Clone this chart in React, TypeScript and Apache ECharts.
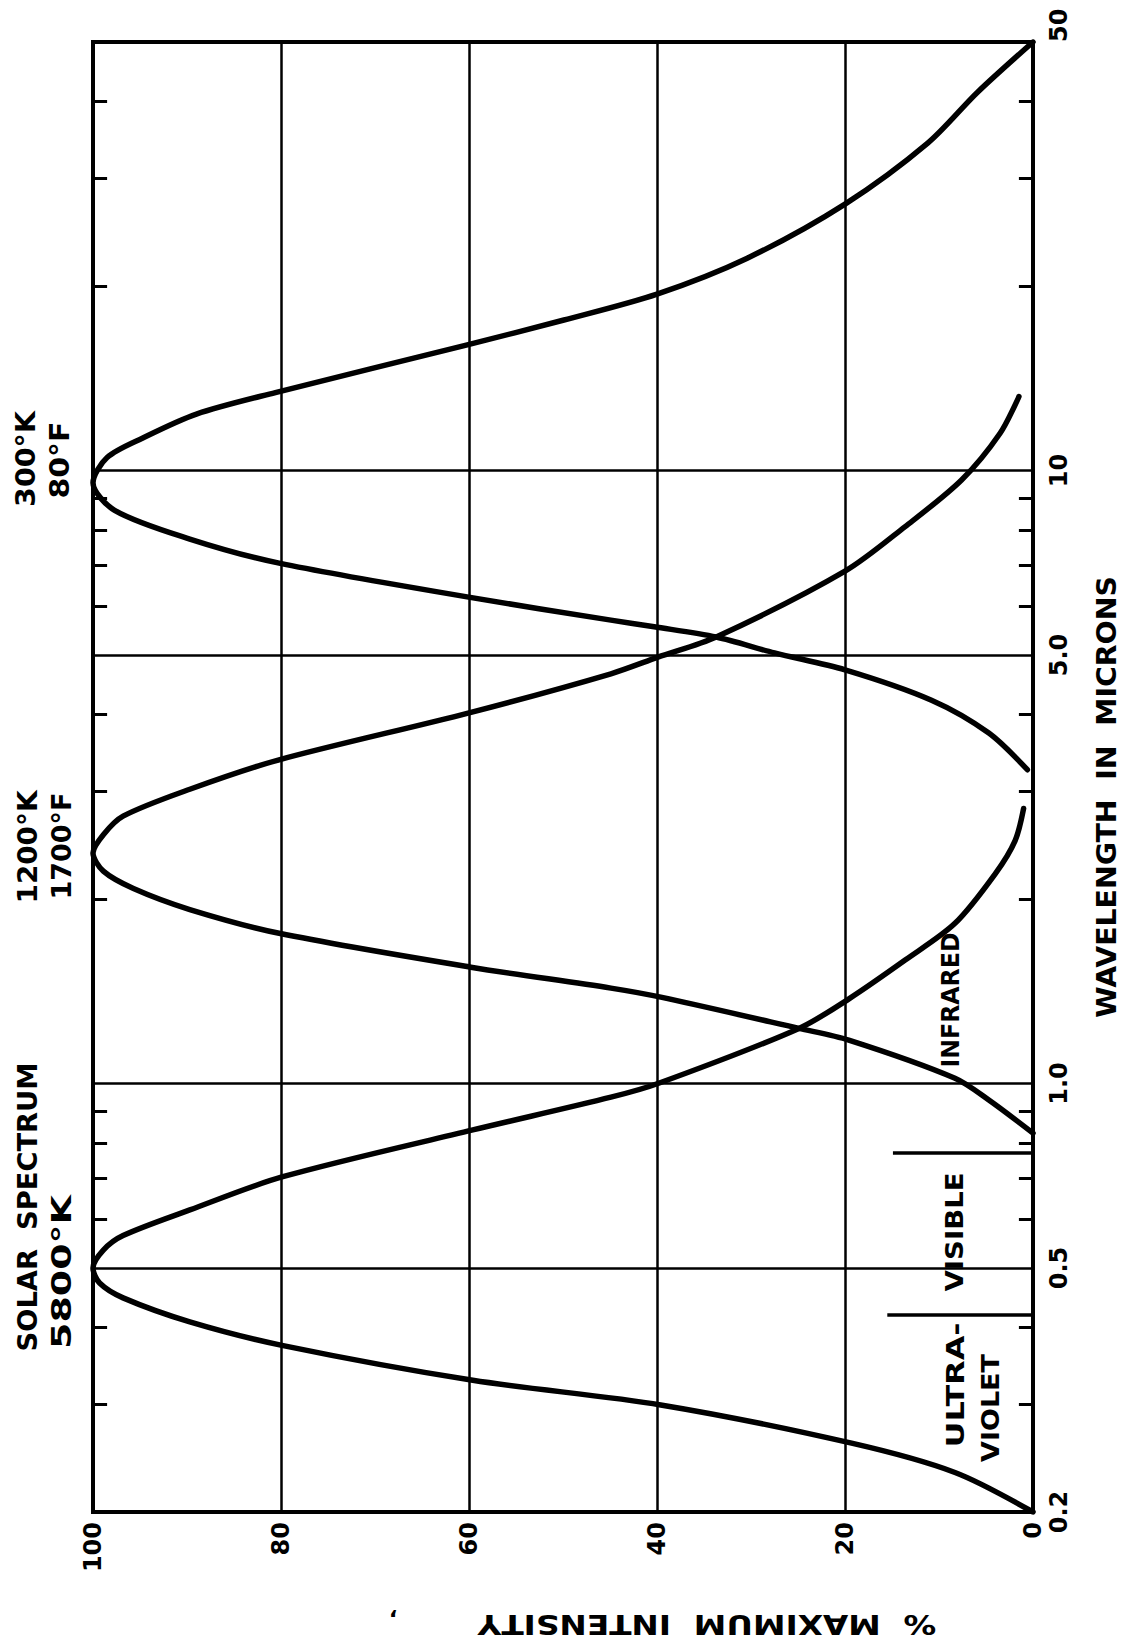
import React, { useEffect, useRef } from "react";
import * as echarts from "echarts";

// ---- Axis definitions ----
const intensityMin = 0;
const intensityMax = 100;
const intensityStep = 20;

const wavelengthMin = 0.2;
const wavelengthMax = 50;
const wavelengthLabelValues = [0.2, 0.5, 1.0, 5.0, 10, 50];
const wavelengthLabelTexts = ["0.2", "0.5", "1.0", "5.0", "10", "50"];
const wavelengthGridValues = [0.5, 1.0, 5.0, 10];
const wavelengthMinorTicks = [0.3, 0.4, 0.6, 0.7, 0.8, 0.9, 2, 3, 4, 6, 7, 8, 9, 20, 30, 40];

// ---- Curves: wavelength (microns) and % maximum intensity ----
const solarWavelength = [0.2, 0.232, 0.259, 0.299, 0.328, 0.374, 0.4085, 0.447, 0.4726, 0.5, 0.535, 0.565, 0.622, 0.704, 0.84, 0.95, 1.0, 1.23, 1.377, 1.59, 1.825, 2.2, 2.49, 2.81];
const solarIntensity = [0, 8.3, 19.3, 39.6, 59.6, 79.9, 89.7, 96.8, 99.3, 100, 98.9, 96.8, 89.7, 79.9, 59.6, 44.9, 39.9, 24.9, 19.5, 13.6, 8.3, 4.0, 1.9, 1.0];

const k1200Wavelength = [0.83, 0.94, 1.02, 1.177, 1.23, 1.383, 1.431, 1.548, 1.758, 1.922, 2.08, 2.22, 2.376, 2.546, 2.73, 3.02, 3.37, 4.02, 4.66, 4.96, 5.35, 6.85, 8.1, 9.65, 11.5, 13.2];
const k1200Intensity = [0, 4.7, 8.3, 19.6, 24.9, 39.6, 44.9, 59.8, 80.2, 89.7, 95.7, 98.9, 100, 98.9, 96.8, 89.7, 80.3, 60.1, 44.9, 39.9, 33.7, 20.0, 13.6, 7.6, 3.5, 1.5];

const k300Wavelength = [3.25, 3.73, 4.22, 4.73, 5.04, 5.35, 5.56, 5.7, 6.22, 7.06, 7.73, 8.61, 9.55, 10.5, 11.3, 12.36, 13.4, 16.0, 17.6, 19.4, 22.2, 27.2, 34.2, 41.4, 50];
const k300Intensity = [0.6, 4.7, 10.8, 20.0, 27.5, 33.7, 40.3, 44.9, 60.2, 80.2, 89.7, 97.7, 100, 98.5, 94.7, 89.0, 80.6, 60.4, 49.9, 40.0, 30.4, 20.0, 11.2, 5.9, 0];

// Band boundaries (ultraviolet / visible / infrared)
const bandBoundaryWavelength = [0.42, 0.77];
const bandBoundaryIntensity = [15.5, 14.9];

// ---- Annotation layout (pixels) ----
type Note = { text: string; x: number; y: number; len: number; size: number; rot: number };
const notes: Note[] = [
  { text: "SOLAR  SPECTRUM", x: 28, y: 1207, len: 289, size: 26, rot: 90 },
  { text: "5800°K", x: 62, y: 1272, len: 154, size: 26, rot: 90 },
  { text: "1200°K", x: 28, y: 847, len: 113, size: 26, rot: 90 },
  { text: "1700°F", x: 62, y: 846, len: 107, size: 26, rot: 90 },
  { text: "300°K", x: 26, y: 459, len: 96, size: 26, rot: 90 },
  { text: "80°F", x: 60, y: 460, len: 77, size: 26, rot: 90 },
  { text: "INFRARED", x: 951, y: 1000, len: 135, size: 24, rot: 90 },
  { text: "VISIBLE", x: 955, y: 1232, len: 119, size: 24, rot: 90 },
  { text: "ULTRA-", x: 956, y: 1385, len: 125, size: 24, rot: 90 },
  { text: "VIOLET", x: 991, y: 1408, len: 108, size: 24, rot: 90 },
  { text: "WAVELENGTH  IN  MICRONS", x: 1107, y: 797, len: 442, size: 26, rot: 90 },
  { text: "%  MAXIMUM  INTENSITY", x: 707, y: 1624, len: 459, size: 26, rot: 180 },
];

const FONT = '"DejaVu Sans", Verdana, sans-serif';

function measure(text: string, size: number): number {
  const ctx = document.createElement("canvas").getContext("2d");
  if (!ctx) return text.length * size * 0.7;
  ctx.font = `bold ${size}px ${FONT}`;
  return ctx.measureText(text).width;
}

const pairs = (wl: number[], inten: number[]) => wl.map((w, i) => [inten[i], w]);

export default function App() {
  const ref = useRef<HTMLDivElement>(null);

  useEffect(() => {
    if (!ref.current) return;
    const chart = echarts.init(ref.current, null, { renderer: "svg" });

    const curveStyle = { color: "#000", width: 5.5, cap: "round" as const, join: "round" as const };

    const markData: any[] = [
      ...wavelengthGridValues.map((v) => ({ yAxis: v })),
      ...wavelengthMinorTicks.map((v) => [
        { coord: [intensityMax, v], lineStyle: { width: 3 } },
        { coord: [intensityMax - 1.5, v] },
      ]),
      ...wavelengthMinorTicks.map((v) => [
        { coord: [intensityMin, v], lineStyle: { width: 3 } },
        { coord: [intensityMin + 1.5, v] },
      ]),
      ...bandBoundaryWavelength.map((v, i) => [
        { coord: [bandBoundaryIntensity[i], v], lineStyle: { width: 3.5 } },
        { coord: [intensityMin, v] },
      ]),
    ];

    const graphics: any[] = notes.map((n) => ({
      type: "text",
      x: n.x,
      y: n.y,
      rotation: (n.rot * Math.PI) / 180,
      scaleX: n.len / measure(n.text, n.size),
      silent: true,
      z: 10,
      style: {
        text: n.text,
        fontSize: n.size,
        fontFamily: FONT,
        fontWeight: "bold",
        fill: "#000",
        align: "center",
        verticalAlign: "middle",
        textAlign: "center",
        textVerticalAlign: "middle",
      },
    }));
    graphics.push({
      type: "text",
      x: 393,
      y: 1620,
      rotation: Math.PI,
      silent: true,
      z: 10,
      style: {
        text: ",",
        fontSize: 22,
        fontFamily: FONT,
        fontWeight: "bold",
        fill: "#000",
        align: "center",
        verticalAlign: "middle",
        textAlign: "center",
        textVerticalAlign: "middle",
      },
    });

    chart.setOption({
      animation: false,
      backgroundColor: "#fff",
      grid: {
        left: 93,
        right: 98,
        top: 42,
        bottom: 130,
        show: true,
        borderColor: "#000",
        borderWidth: 4,
        backgroundColor: "transparent",
        outerBoundsMode: "none",
      },
      xAxis: {
        type: "value",
        min: intensityMin,
        max: intensityMax,
        interval: intensityStep,
        inverse: true,
        position: "bottom",
        axisLine: { show: true, lineStyle: { color: "#000", width: 4 } },
        axisTick: { show: false },
        splitLine: { show: true, lineStyle: { color: "#000", width: 2.5, type: "solid" } },
        axisLabel: {
          rotate: 90,
          margin: 10,
          color: "#000",
          fontSize: 24,
          fontFamily: FONT,
          fontWeight: "bold",
          showMinLabel: true,
          showMaxLabel: true,
        },
      },
      yAxis: {
        type: "log",
        logBase: 10,
        min: wavelengthMin,
        max: wavelengthMax,
        position: "right",
        axisLine: { show: true, lineStyle: { color: "#000", width: 4 } },
        axisTick: { show: false },
        splitLine: { show: false },
        minorTick: { show: false },
        minorSplitLine: { show: false },
        axisLabel: {
          customValues: wavelengthLabelValues,
          rotate: 90,
          margin: 14,
          color: "#000",
          fontSize: 24,
          fontFamily: FONT,
          fontWeight: "bold",
          alignMaxLabel: "left",
          showMinLabel: true,
          showMaxLabel: true,
          formatter: (v: number) => {
            const i = wavelengthLabelValues.findIndex((w) => Math.abs(w - v) / w < 1e-3);
            return i >= 0 ? wavelengthLabelTexts[i] : "";
          },
        },
      },
      series: [
        {
          name: "Solar spectrum 5800°K",
          type: "line",
          data: pairs(solarWavelength, solarIntensity),
          smooth: 0.3,
          symbol: "none",
          showSymbol: false,
          lineStyle: curveStyle,
          z: 4,
          markLine: {
            silent: true,
            symbol: ["none", "none"],
            label: { show: false },
            emphasis: { disabled: true },
            lineStyle: { color: "#000", width: 2.5, type: "solid" },
            data: markData,
          },
        },
        {
          name: "1200°K",
          type: "line",
          data: pairs(k1200Wavelength, k1200Intensity),
          smooth: 0.3,
          symbol: "none",
          showSymbol: false,
          lineStyle: curveStyle,
          z: 4,
        },
        {
          name: "300°K",
          type: "line",
          data: pairs(k300Wavelength, k300Intensity),
          smooth: 0.3,
          symbol: "none",
          showSymbol: false,
          lineStyle: curveStyle,
          z: 4,
        },
      ],
      graphic: graphics,
    });

    return () => chart.dispose();
  }, []);

  return (
    <div
      ref={ref}
      style={{ position: "absolute", left: 0, top: 0, width: 1131, height: 1642, background: "#fff" }}
    />
  );
}
